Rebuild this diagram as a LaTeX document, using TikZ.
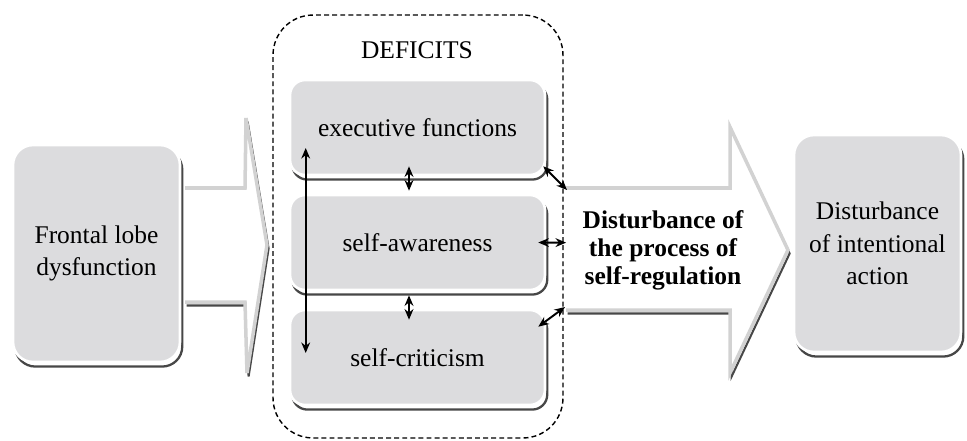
\documentclass[tikz,border=0pt]{standalone}
\usepackage{fontspec}
\setmainfont{Liberation Serif}
\usetikzlibrary{arrows.meta,calc}

\definecolor{boxgray}{HTML}{DCDCDE}
\definecolor{shadegray}{HTML}{474747}
\definecolor{rimgray}{HTML}{D2D2D2}

\begin{document}
\begin{tikzpicture}[x=0.02cm,y=-0.02cm]
\tikzstyle{card}=[
	rectangle,
	rounded corners=0.4cm,
	fill=boxgray,
	draw=white,
	line width=1.5pt,
	preaction={draw=shadegray, line width=1.3pt, transform canvas={shift={(1.3pt,-2.6pt)}}},
	align=center,
	font=\fontsize{14.5}{18.5}\selectfont ]
\tikzstyle{tall}=[card, minimum width=3.34cm, minimum height=4.34cm]
\tikzstyle{deficit}=[card, rounded corners=0.3cm, minimum width=5.1cm, minimum height=1.9cm]
\tikzstyle{bigarrow}=[
	draw=rimgray,
	fill=white,
	line width=2pt,
	preaction={draw=shadegray, line width=1.2pt, transform canvas={shift={(0.9pt,-2pt)}}} ]
\tikzstyle{link}=[{Stealth[length=6pt,width=5pt]}-{Stealth[length=6pt,width=5pt]}, line width=1.1pt]
\useasboundingbox (0,0) rectangle (967,440);

% arrow into the deficits
\draw[bigarrow] (185,188) -- (245,188) -- (246,118) -- (267,245) -- (247,373) -- (245,302) -- (185,302);
\node[tall] (frontal) at (96.5,253.5) {Frontal lobe\\dysfunction};

% arrow out of the deficits
\draw[bigarrow] (566,188) -- (730,188) -- (730,127) -- (788,250) -- (730,373) -- (730,310) -- (566,310);
\node[align=center, font=\fontsize{14.5}{16}\selectfont\bfseries] (regulation) at (663,250)
	{Disturbance of\\the process of\\self-regulation};
\coordinate (regtop) at (567,190);
\coordinate (regbot) at (565,307);

\node[tall] (action) at (877.5,243.5) {Disturbance\\of intentional\\action};

% deficits group
\node[draw, dashed, dash pattern=on 2.8pt off 1.8pt, line width=0.8pt, rounded corners=0.8cm,
	minimum width=5.8cm, minimum height=8.46cm] (deficits) at (418,226.5) {};
\node[font=\fontsize{14.5}{18}\selectfont] (title) at (417,50) {DEFICITS};
\node[deficit] (execfn) at (417.5,127.5) {executive functions};
\node[deficit] (awareness) at (417.5,242.5) {self-awareness};
\node[deficit] (criticism) at (417.5,357.5) {self-criticism};

\draw[link] ([xshift=0.34cm,yshift=-0.41cm]execfn.west) -- ([xshift=0.34cm,yshift=0.09cm]criticism.west);
\draw[link] ([xshift=-0.17cm,yshift=0.2cm]execfn.south) -- ([xshift=-0.17cm,yshift=0.06cm]awareness.north);
\draw[link] ([xshift=-0.17cm,yshift=-0.08cm]awareness.south) -- ([xshift=-0.17cm,yshift=-0.22cm]criticism.north);
\draw[link] ([xshift=-0.06cm,yshift=0.2cm]execfn.south east) -- (regtop);
\draw[link] ([xshift=-0.16cm]awareness.east) -- ($(regtop)!0.45!(regbot)$);
\draw[link] ([xshift=-0.16cm,yshift=-0.36cm]criticism.north east) -- (regbot);
\end{tikzpicture}
\end{document}
